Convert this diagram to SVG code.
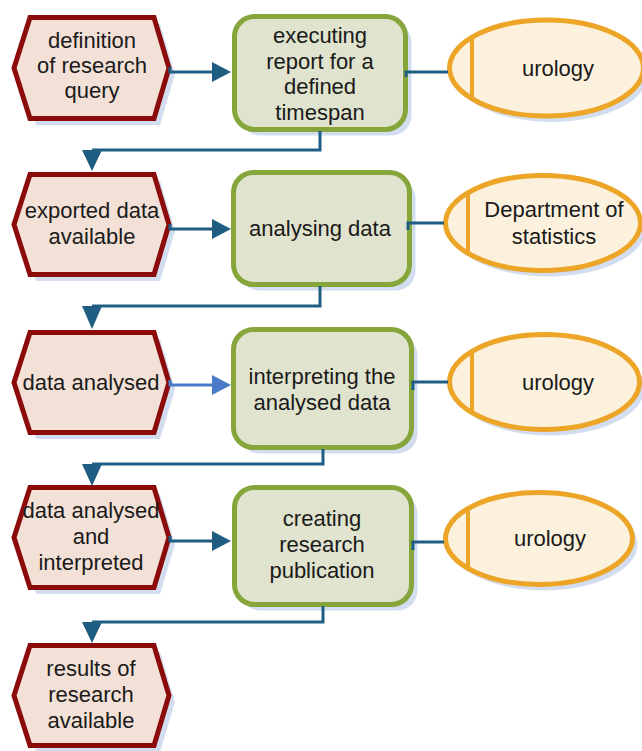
<svg xmlns="http://www.w3.org/2000/svg" width="642" height="751" viewBox="0 0 642 751">
<style>
.hex{fill:#f3e1d7;stroke:#8b0b0b;stroke-width:5;stroke-linejoin:miter}
.box{fill:#e0e3cd;stroke:#86a53a;stroke-width:5}
.ell{fill:#fcf1dd;stroke:#eca526;stroke-width:5}
.bar{stroke:#eca526;stroke-width:4}
.sh{fill:#d3ddf0;stroke:none}
.t{font-family:"Liberation Sans",Arial,sans-serif;font-size:22px;fill:#1a1a1a;text-anchor:middle}
.c{fill:none;stroke:#1f5e82;stroke-width:3}
.ah{fill:#1f5e82}
.cl{fill:none;stroke:#4a7bc9;stroke-width:3}
.ahl{fill:#4a7bc9}
</style>
<rect width="642" height="751" fill="#ffffff"/>

<g id="e1">
<path class="sh" d="M21,74 L36,24 L160,24 L175,74 L160,125 L36,125 Z"/>
<path class="hex" d="M14,68 L30,17.5 L154,17.5 L169,68 L154,118.5 L30,118.5 Z"/>
<text class="t" x="92" y="48">definition</text>
<text class="t" x="92" y="73">of research</text>
<text class="t" x="92" y="98">query</text>
</g>

<g id="f1">
<rect class="sh" x="240.5" y="22.5" width="171" height="113" rx="20"/>
<rect class="box" x="234.5" y="16.5" width="171" height="113" rx="20"/>
<text class="t" x="320" y="43">executing</text>
<text class="t" x="320" y="68.5">report for a</text>
<text class="t" x="320" y="94">defined</text>
<text class="t" x="320" y="119.5">timespan</text>
</g>

<g id="o1">
<ellipse class="sh" cx="551.5" cy="74" rx="97" ry="48"/>
<ellipse class="ell" cx="546.5" cy="68" rx="97" ry="48"/>
<line class="bar" x1="472" y1="37" x2="472" y2="99"/>
<text class="t" x="558" y="76">urology</text>
</g>

<g id="e2">
<path class="sh" d="M21,231 L36,181 L160,181 L175,231 L160,281 L36,281 Z"/>
<path class="hex" d="M14,224.5 L30,174.5 L154,174.5 L169,224.5 L154,274.5 L30,274.5 Z"/>
<text class="t" x="92" y="218">exported data</text>
<text class="t" x="92" y="244">available</text>
</g>

<g id="f2">
<rect class="sh" x="239.5" y="178.5" width="176" height="112" rx="20"/>
<rect class="box" x="233.5" y="172.5" width="176" height="112" rx="20"/>
<text class="t" x="320" y="236">analysing data</text>
</g>

<g id="o2">
<ellipse class="sh" cx="548" cy="229" rx="97.5" ry="47.5"/>
<ellipse class="ell" cx="543" cy="223" rx="97.5" ry="47.5"/>
<line class="bar" x1="468" y1="193" x2="468" y2="253"/>
<text class="t" x="554" y="217">Department of</text>
<text class="t" x="554" y="244">statistics</text>
</g>

<g id="e3">
<path class="sh" d="M21,389 L36,339 L160,339 L175,389 L160,439 L36,439 Z"/>
<path class="hex" d="M14,382.5 L30,332.5 L154,332.5 L169,382.5 L154,432.5 L30,432.5 Z"/>
<text class="t" x="91" y="390">data analysed</text>
</g>

<g id="f3">
<rect class="sh" x="239.5" y="335.5" width="178" height="118" rx="20"/>
<rect class="box" x="233.5" y="329.5" width="178" height="118" rx="20"/>
<text class="t" x="322" y="384">interpreting the</text>
<text class="t" x="322" y="410">analysed data</text>
</g>

<g id="o3">
<ellipse class="sh" cx="549.5" cy="388" rx="95" ry="47.5"/>
<ellipse class="ell" cx="544.5" cy="382" rx="95" ry="47.5"/>
<line class="bar" x1="472" y1="352" x2="472" y2="412"/>
<text class="t" x="558" y="390">urology</text>
</g>

<g id="e4">
<path class="sh" d="M21,544 L36,494 L160,494 L175,544 L160,594 L36,594 Z"/>
<path class="hex" d="M14,537.5 L30,487.5 L154,487.5 L169,537.5 L154,587.5 L30,587.5 Z"/>
<text class="t" x="91" y="518">data analysed</text>
<text class="t" x="91" y="544">and</text>
<text class="t" x="91" y="570">interpreted</text>
</g>

<g id="f4">
<rect class="sh" x="240.5" y="493.5" width="177" height="117" rx="20"/>
<rect class="box" x="234.5" y="487.5" width="177" height="117" rx="20"/>
<text class="t" x="322" y="526">creating</text>
<text class="t" x="322" y="552">research</text>
<text class="t" x="322" y="578">publication</text>
</g>

<g id="o4">
<ellipse class="sh" cx="544" cy="544.5" rx="93.5" ry="46"/>
<ellipse class="ell" cx="539" cy="538.5" rx="93.5" ry="46"/>
<line class="bar" x1="468" y1="508" x2="468" y2="569"/>
<text class="t" x="550" y="546">urology</text>
</g>

<g id="e5">
<path class="sh" d="M21,702 L36,652 L160,652 L175,702 L160,752 L36,752 Z"/>
<path class="hex" d="M14,695.5 L30,645.5 L154,645.5 L169,695.5 L154,745.5 L30,745.5 Z"/>
<text class="t" x="91" y="676">results of</text>
<text class="t" x="91" y="702">research</text>
<text class="t" x="91" y="728">available</text>
</g>

<g id="connectors">
<path class="c" d="M170,67 V72 H214"/>
<polygon class="ah" points="231,72 212,62 212,82"/>
<path class="c" d="M406,77 V72 H448"/>
<path class="c" d="M320,131 V150 H92"/>
<polygon class="ah" points="82,150 102,150 92,171"/>

<path class="c" d="M170,224 V229 H214"/>
<polygon class="ah" points="231,229 212,219 212,239"/>
<path class="c" d="M408,230 V223 H444"/>
<path class="c" d="M320,286 V306 H92"/>
<polygon class="ah" points="82,306 102,306 92,329"/>

<path class="cl" d="M170,380 V385 H214"/>
<polygon class="ahl" points="231,385 212,375 212,395"/>
<path class="c" d="M413,390 V382 H448"/>
<path class="c" d="M323,449 V464 H92"/>
<polygon class="ah" points="82,464 102,464 92,486"/>

<path class="c" d="M170,536 V541 H214"/>
<polygon class="ah" points="231,541 212,531 212,551"/>
<path class="c" d="M413,550 V542 H444"/>
<path class="c" d="M323,606 V622 H92"/>
<polygon class="ah" points="82,622 102,622 92,643"/>
</g>
</svg>
